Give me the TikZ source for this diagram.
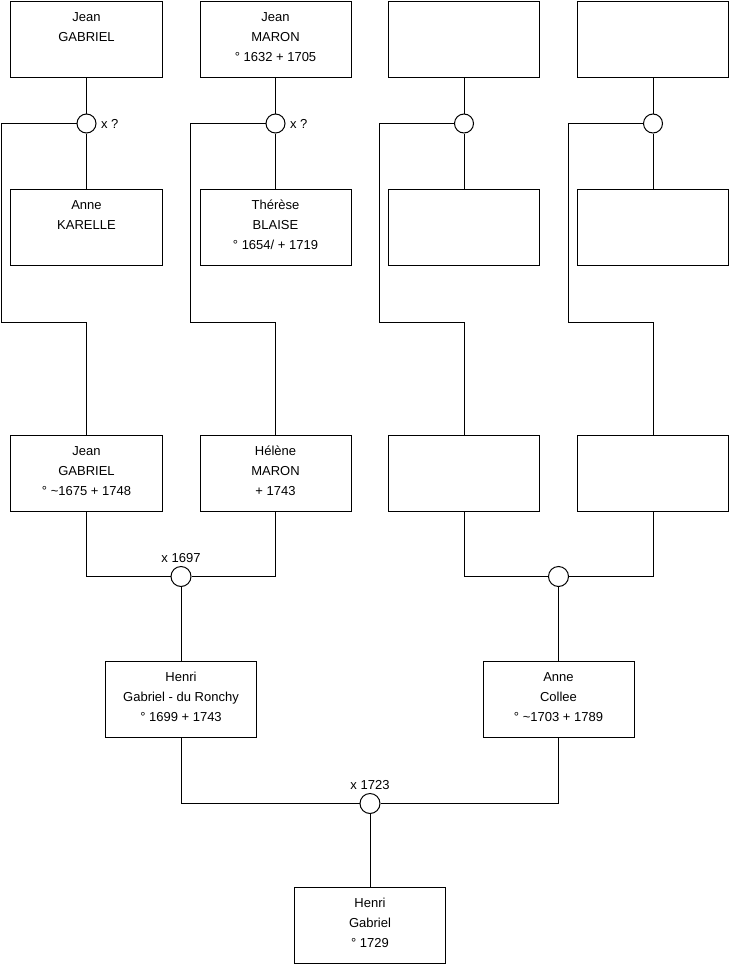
\documentclass[tikz,border=0pt]{standalone}
\usepackage{fontspec}
\setmainfont{Liberation Sans}
\begin{document}
\begin{tikzpicture}[x=1bp,y=-1bp,
  every path/.style={line width=1bp},
  box/.style={draw, line width=1bp, rectangle, minimum width=151bp, minimum height=76bp, inner sep=0pt, fill=white},
  txt/.style={align=center, inner sep=0pt, anchor=north, font=\fontsize{13bp}{20bp}\selectfont},
  ring/.style={draw, line width=1bp, circle, minimum size=19bp, inner sep=0pt, fill=white},
  bigring/.style={draw, line width=1bp, circle, minimum size=20bp, inner sep=0pt, fill=white},
  lbl/.style={inner sep=0pt, font=\fontsize{13bp}{16bp}\selectfont},
  conn/.style={draw, line width=1bp}
]
\useasboundingbox (0,0) rectangle (740,975);
\fill[white] (0,0) rectangle (740,975);

\coordinate (k1) at (1.5,322);
\coordinate (k2) at (190.5,322);
\coordinate (k3) at (379.5,322);
\coordinate (k4) at (568.5,322);

% boxes
\node[box] (a1) at (86.5,39) {};
\node[box] (a2) at (275.5,39) {};
\node[box] (a3) at (464,39) {};
\node[box] (a4) at (653,39) {};
\node[box] (b1) at (86.5,227) {};
\node[box] (b2) at (275.5,227) {};
\node[box] (b3) at (464,227) {};
\node[box] (b4) at (653,227) {};
\node[box] (c1) at (86.5,473) {};
\node[box] (c2) at (275.5,473) {};
\node[box] (c3) at (464,473) {};
\node[box] (c4) at (653,473) {};
\node[box] (d1) at (181,699.5) {};
\node[box] (d2) at (558.5,699.5) {};
\node[box] (e) at (370,925.5) {};

% rings
\node[ring] (m1) at (86.5,123.5) {};
\node[ring] (m2) at (275.5,123.5) {};
\node[ring] (m3) at (464,123.5) {};
\node[ring] (m4) at (653,123.5) {};
\node[bigring] (n1) at (181,576.5) {};
\node[bigring] (n2) at (558.5,576.5) {};
\node[bigring] (p) at (370,803.5) {};

% connectors
\foreach \i in {1,2,3,4}{
  \draw[conn] (a\i.south) -- (m\i.north);
  \draw[conn] (m\i.south) -- (b\i.north);
  \draw[conn] (m\i.west) -| (k\i) -| (c\i.north);
}
\draw[conn] (c1.south) |- (n1.west);
\draw[conn] (c2.south) |- (n1.east);
\draw[conn] (n1.south) -- (d1.north);
\draw[conn] (c3.south) |- (n2.west);
\draw[conn] (c4.south) |- (n2.east);
\draw[conn] (n2.south) -- (d2.north);
\draw[conn] (d1.south) |- (p.west);
\draw[conn] (d2.south) |- (p.east);
\draw[conn] (p.south) -- (e.north);

% texts
\node[txt] (ta1) at ([yshift=-10.3bp]a1.north) {\rule{0pt}{10bp}Jean\\GABRIEL};
\node[txt] (ta2) at ([yshift=-10.3bp]a2.north) {\rule{0pt}{10bp}Jean\\MARON\\° 1632 + 1705};
\node[txt] (tb1) at ([yshift=-10.3bp]b1.north) {\rule{0pt}{10bp}Anne\\KARELLE};
\node[txt] (tb2) at ([yshift=-10.3bp]b2.north) {\rule{0pt}{10bp}Thérèse\\BLAISE\\° 1654/ + 1719};
\node[txt] (tc1) at ([yshift=-10.3bp]c1.north) {\rule{0pt}{10bp}Jean\\GABRIEL\\° \textasciitilde1675 + 1748};
\node[txt] (tc2) at ([yshift=-10.3bp]c2.north) {\rule{0pt}{10bp}Hélène\\MARON\\+ 1743};
\node[txt] (td1) at ([yshift=-10.3bp]d1.north) {\rule{0pt}{10bp}Henri\\Gabriel - du Ronchy\\° 1699 + 1743};
\node[txt] (td2) at ([yshift=-10.3bp]d2.north) {\rule{0pt}{10bp}Anne\\Collee\\° \textasciitilde1703 + 1789};
\node[txt] (te) at ([yshift=-10.3bp]e.north) {\rule{0pt}{10bp}Henri\\Gabriel\\° 1729};

% marriage labels
\node[lbl, anchor=west] (l1) at ([xshift=4bp]m1.east) {x ?};
\node[lbl, anchor=west] (l2) at ([xshift=4bp]m2.east) {x ?};
\node[lbl, anchor=base] (l3) at ([yshift=4bp]n1.north) {x 1697};
\node[lbl, anchor=base] (l4) at ([yshift=4bp]p.north) {x 1723};
\end{tikzpicture}
\end{document}
